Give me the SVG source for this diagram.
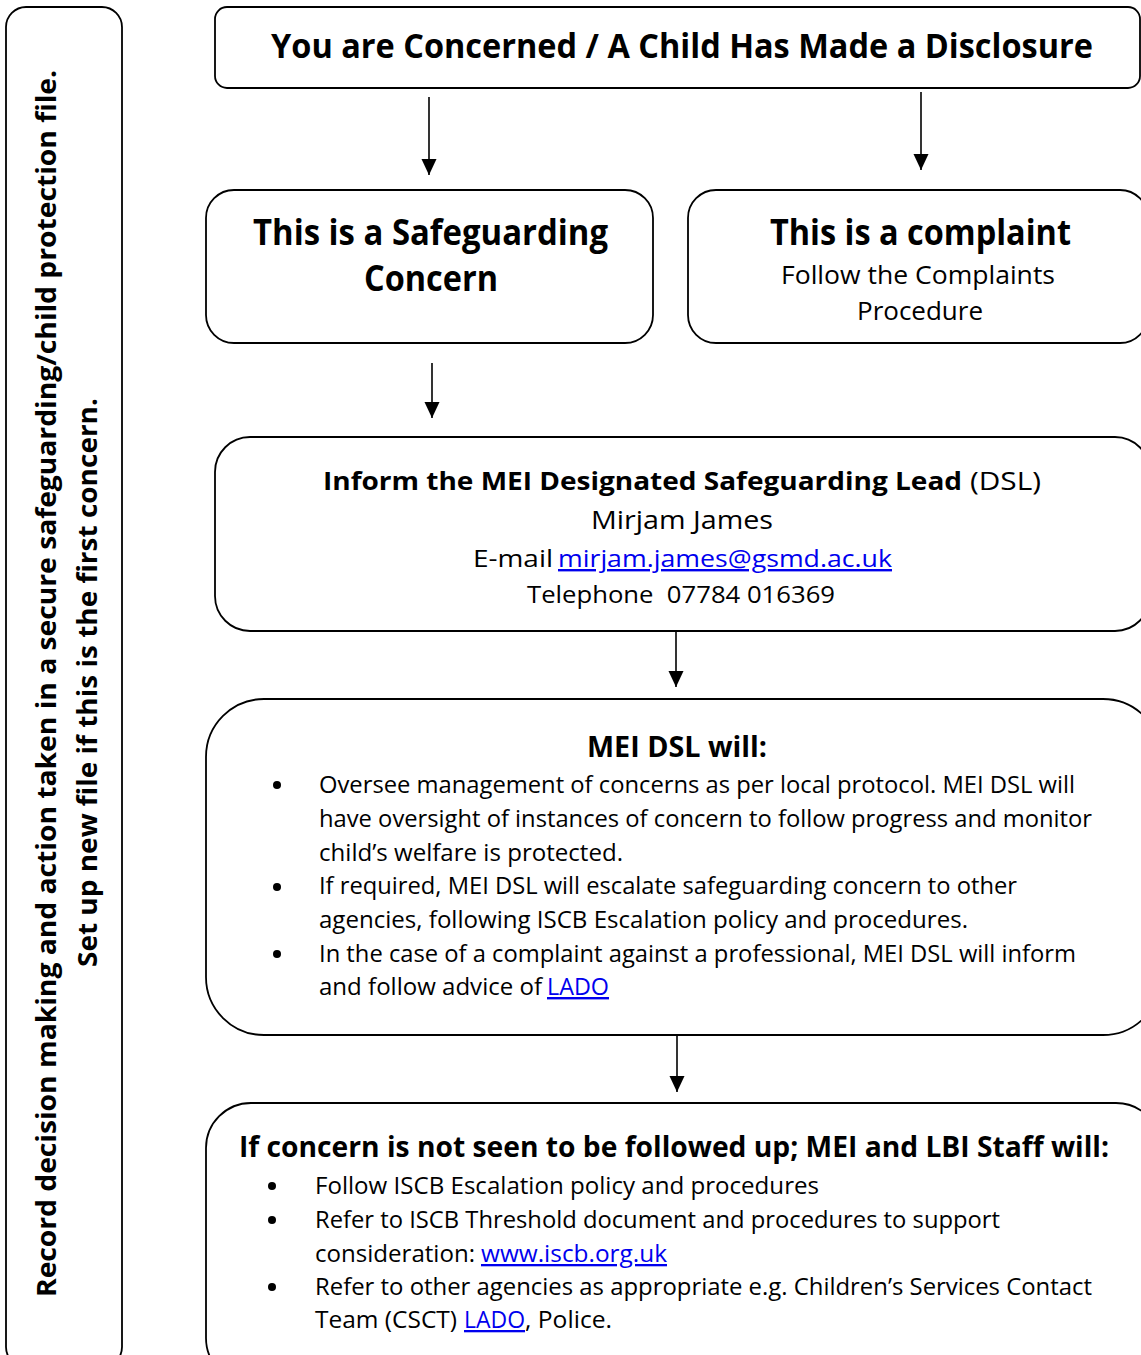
<svg xmlns="http://www.w3.org/2000/svg" width="1141" height="1355" viewBox="0 0 1141 1355">
<style>
.box{fill:#fff;stroke:#000;stroke-width:1.8}
text{font-family:"Open Sans","Noto Sans","DejaVu Sans",sans-serif;fill:#000}
.b{font-weight:bold}
.lk{fill:#0000ee;text-decoration:underline}
.conn{stroke:#000;stroke-width:1.6;fill:none}
.bul{fill:#000}
</style>
<defs>
<marker id="ah" markerUnits="userSpaceOnUse" markerWidth="16" markerHeight="17" viewBox="0 0 17 16" refX="17" refY="8" orient="auto">
<path d="M0,0 L17,8 L0,16 Z" fill="#000"/>
</marker>
</defs>
<rect width="1141" height="1355" fill="#fff"/>

<g id="sidebar">
<rect class="box" x="6" y="7" width="116" height="1360" rx="20" ry="20"/>
<text class="b" font-size="26" text-anchor="middle" transform="translate(56,683.5) rotate(-90)" textLength="1227" lengthAdjust="spacingAndGlyphs">Record decision making and action taken in a secure safeguarding/child protection file.</text>
<text class="b" font-size="26" text-anchor="middle" transform="translate(97,682.5) rotate(-90)" textLength="569" lengthAdjust="spacingAndGlyphs">Set up new file if this is the first concern.</text>
</g>

<g id="start">
<rect class="box" x="215" y="7" width="925" height="81" rx="12" ry="12"/>
<text class="b" x="271" y="58" font-size="34" textLength="822" lengthAdjust="spacingAndGlyphs">You are Concerned / A Child Has Made a Disclosure</text>
</g>

<g id="safeguarding">
<rect class="box" x="206" y="190" width="447" height="153" rx="28" ry="28"/>
<text class="b" x="253" y="245" font-size="36" textLength="355" lengthAdjust="spacingAndGlyphs">This is a Safeguarding</text>
<text class="b" x="364" y="291" font-size="36" textLength="134" lengthAdjust="spacingAndGlyphs">Concern</text>
</g>

<g id="complaint">
<rect class="box" x="688" y="190" width="460" height="153" rx="28" ry="28"/>
<text class="b" x="770" y="245" font-size="36" textLength="301" lengthAdjust="spacingAndGlyphs">This is a complaint</text>
<text x="781" y="284" font-size="26" textLength="274" lengthAdjust="spacingAndGlyphs">Follow the Complaints</text>
<text x="857" y="320" font-size="26" textLength="126" lengthAdjust="spacingAndGlyphs">Procedure</text>
</g>

<g id="inform-dsl">
<rect class="box" x="215" y="437" width="935" height="194" rx="35" ry="35"/>
<text class="b" x="323" y="490" font-size="25" textLength="639" lengthAdjust="spacingAndGlyphs">Inform the MEI Designated Safeguarding Lead</text>
<text x="970" y="490" font-size="25" textLength="71" lengthAdjust="spacingAndGlyphs">(DSL)</text>
<text x="591" y="529" font-size="26" textLength="182" lengthAdjust="spacingAndGlyphs">Mirjam James</text>
<text x="473" y="567" font-size="24" textLength="80" lengthAdjust="spacingAndGlyphs">E-mail</text>
<text class="lk" x="558" y="567" font-size="24" textLength="334" lengthAdjust="spacingAndGlyphs">mirjam.james@gsmd.ac.uk</text>
<text x="527" y="603" font-size="24" textLength="308" lengthAdjust="spacingAndGlyphs" xml:space="preserve">Telephone  07784 016369</text>
</g>

<g id="dsl-will">
<rect class="box" x="206" y="699" width="955" height="336" rx="58" ry="58"/>
<text class="b" x="587" y="757" font-size="28" textLength="180" lengthAdjust="spacingAndGlyphs">MEI DSL will:</text>
<circle class="bul" cx="277" cy="785" r="4"/>
<circle class="bul" cx="277" cy="887" r="4"/>
<circle class="bul" cx="277" cy="954" r="4"/>
<text x="319" y="793" font-size="24" textLength="756" lengthAdjust="spacingAndGlyphs">Oversee management of concerns as per local protocol. MEI DSL will</text>
<text x="319" y="827" font-size="24" textLength="773" lengthAdjust="spacingAndGlyphs">have oversight of instances of concern to follow progress and monitor</text>
<text x="319" y="861" font-size="24" textLength="304" lengthAdjust="spacingAndGlyphs">child’s welfare is protected.</text>
<text x="319" y="894" font-size="24" textLength="698" lengthAdjust="spacingAndGlyphs">If required, MEI DSL will escalate safeguarding concern to other</text>
<text x="319" y="928" font-size="24" textLength="649" lengthAdjust="spacingAndGlyphs">agencies, following ISCB Escalation policy and procedures.</text>
<text x="319" y="962" font-size="24" textLength="757" lengthAdjust="spacingAndGlyphs">In the case of a complaint against a professional, MEI DSL will inform</text>
<text x="319" y="995" font-size="24" textLength="223" lengthAdjust="spacingAndGlyphs">and follow advice of</text>
<text class="lk" x="547" y="995" font-size="24" textLength="62" lengthAdjust="spacingAndGlyphs">LADO</text>
</g>

<g id="escalation">
<rect class="box" x="206" y="1103" width="955" height="280" rx="45" ry="45"/>
<text class="b" x="239" y="1157" font-size="28" textLength="870" lengthAdjust="spacingAndGlyphs">If concern is not seen to be followed up; MEI and LBI Staff will:</text>
<circle class="bul" cx="272" cy="1186" r="4"/>
<circle class="bul" cx="272" cy="1220" r="4"/>
<circle class="bul" cx="272" cy="1287" r="4"/>
<text x="315" y="1194" font-size="23" textLength="504" lengthAdjust="spacingAndGlyphs">Follow ISCB Escalation policy and procedures</text>
<text x="315" y="1228" font-size="23" textLength="685" lengthAdjust="spacingAndGlyphs">Refer to ISCB Threshold document and procedures to support</text>
<text x="315" y="1262" font-size="23" textLength="160" lengthAdjust="spacingAndGlyphs">consideration:</text>
<text class="lk" x="481" y="1262" font-size="23" textLength="186" lengthAdjust="spacingAndGlyphs">www.iscb.org.uk</text>
<text x="315" y="1295" font-size="23" textLength="777" lengthAdjust="spacingAndGlyphs">Refer to other agencies as appropriate e.g. Children’s Services Contact</text>
<text x="315" y="1328" font-size="23" textLength="142" lengthAdjust="spacingAndGlyphs">Team (CSCT)</text>
<text class="lk" x="464" y="1328" font-size="23" textLength="61" lengthAdjust="spacingAndGlyphs">LADO</text>
<text x="525" y="1328" font-size="23" textLength="87" lengthAdjust="spacingAndGlyphs">, Police.</text>
</g>

<g id="connectors">
<line class="conn" x1="429" y1="97" x2="429" y2="175" marker-end="url(#ah)"/>
<line class="conn" x1="921" y1="92" x2="921" y2="170" marker-end="url(#ah)"/>
<line class="conn" x1="432" y1="363" x2="432" y2="418" marker-end="url(#ah)"/>
<line class="conn" x1="676" y1="631" x2="676" y2="687" marker-end="url(#ah)"/>
<line class="conn" x1="677" y1="1036" x2="677" y2="1092" marker-end="url(#ah)"/>
</g>
</svg>
